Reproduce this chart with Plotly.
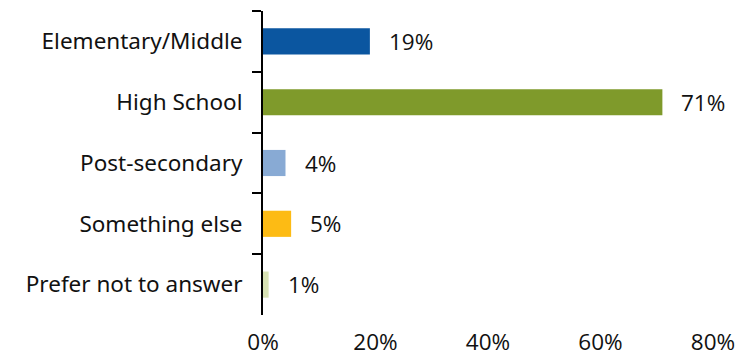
import plotly.graph_objects as go

categories = ["Elementary/Middle", "High School", "Post-secondary", "Something else", "Prefer not to answer"]
values = [19, 71, 4, 5, 1]
colors = ["#0B56A0", "#7F9A2B", "#88AAD4", "#FDBB14", "#D8E2B4"]
x_ticks = [0, 20, 40, 60, 80]
x_labels = ["0%", "20%", "40%", "60%", "80%"]

fig = go.Figure(
    go.Bar(
        y=categories,
        x=values,
        orientation="h",
        marker=dict(color=colors, line=dict(width=0)),
        hoverinfo="skip",
    )
)

for cat, val in zip(categories, values):
    fig.add_annotation(
        x=val, y=cat, text=f"{val}%", showarrow=False,
        xanchor="left", xshift=17,
        font=dict(family="Open Sans, sans-serif", size=22.5, color="#111111"),
    )

fig.update_layout(
    width=751, height=358,
    margin=dict(l=263, r=38, t=11, b=43, autoexpand=False),
    paper_bgcolor="white", plot_bgcolor="white",
    bargap=0.57,
    showlegend=False,
    font=dict(family="Noto Sans, sans-serif", size=22.5, color="#111111"),
)
fig.update_yaxes(
    type="category", autorange="reversed", automargin=False,
    showline=True, linecolor="black", linewidth=2,
    ticks="outside", tickson="boundaries", ticklen=9, tickwidth=2, tickcolor="black",
    showgrid=False, zeroline=False,
    ticklabelstandoff=14,
)
fig.update_xaxes(
    range=[0, 80], tickvals=x_ticks, ticktext=x_labels, automargin=False,
    tickfont=dict(family="Open Sans, sans-serif", size=22.5),
    showgrid=False, zeroline=False, showline=False, ticks="",
    ticklabelstandoff=11,
)

fig.write_html("out.html")
